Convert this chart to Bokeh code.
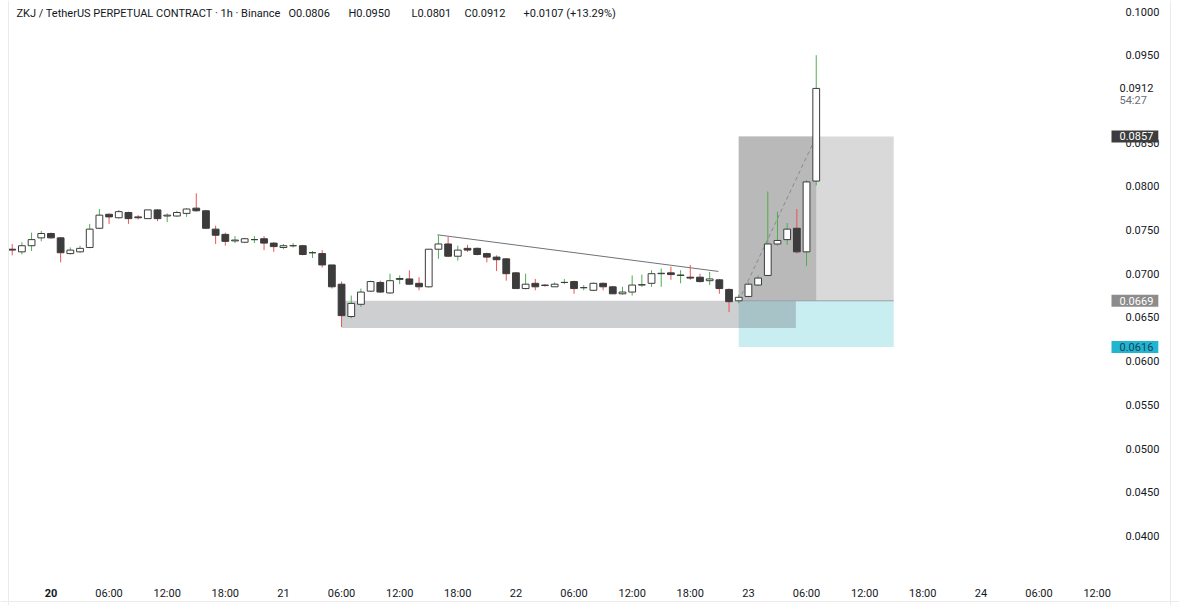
from bokeh.plotting import figure
from bokeh.models import Range1d, FixedTicker, Label, ColumnDataSource, CustomJSTickFormatter, Span
from bokeh.embed import file_html
from bokeh.resources import INLINE

# ---- data: ZKJ/USDT perpetual, 1h candles, first bar = 19th 20:00 ----
opens = [0.0728, 0.0725, 0.0732, 0.0741, 0.0746, 0.0741, 0.0723, 0.0725, 0.0730, 0.0752,
         0.0768, 0.0764, 0.0770, 0.0765, 0.0763, 0.0773, 0.0766, 0.0766, 0.0769, 0.0775,
         0.0772, 0.0751, 0.0745, 0.07375, 0.0736, 0.0739, 0.0740, 0.0735, 0.0730, 0.0732,
         0.0732, 0.0724, 0.0723, 0.0710, 0.0688, 0.0651, 0.0665, 0.0680, 0.0690, 0.0678,
         0.06935, 0.0694, 0.0689, 0.0685, 0.0728, 0.0734, 0.0720, 0.0729, 0.0729, 0.0723,
         0.0719, 0.0717, 0.0701, 0.0683, 0.0689, 0.0687, 0.0685, 0.0690, 0.0691, 0.0684,
         0.0681, 0.0689, 0.0685, 0.0677, 0.0679, 0.0687, 0.0689, 0.0700, 0.0701, 0.0698,
         0.0696, 0.0696, 0.0692, 0.0693, 0.0682, 0.0669, 0.0674, 0.0687, 0.0698, 0.0734,
         0.0739, 0.0752, 0.0725, 0.0806]
highs = [0.0734, 0.0736, 0.0747, 0.0749, 0.0747, 0.0742, 0.0730, 0.0732, 0.0757, 0.0774,
         0.0769, 0.0773, 0.0771, 0.0767, 0.0773, 0.0774, 0.0769, 0.0772, 0.0775, 0.0792,
         0.0773, 0.0755, 0.0747, 0.0743, 0.0741, 0.0743, 0.0743, 0.0736, 0.0734, 0.0735,
         0.0733, 0.0726, 0.0727, 0.0710, 0.0691, 0.0675, 0.0683, 0.0692, 0.0692, 0.0700,
         0.0698, 0.0704, 0.0696, 0.0728, 0.0744, 0.0742, 0.0732, 0.0733, 0.0730, 0.0724,
         0.0721, 0.0718, 0.0702, 0.0700, 0.0694, 0.0688, 0.0690, 0.0694, 0.0692, 0.0687,
         0.0690, 0.0690, 0.0686, 0.0685, 0.0698, 0.0699, 0.0704, 0.0706, 0.0708, 0.0704,
         0.0710, 0.0700, 0.0702, 0.0694, 0.0683, 0.0676, 0.0690, 0.0698, 0.0794, 0.0771,
         0.0758, 0.0774, 0.0807, 0.0950]
lows = [0.0721, 0.0722, 0.0726, 0.0737, 0.0740, 0.0713, 0.0722, 0.0724, 0.0729, 0.0751,
        0.0757, 0.0763, 0.0757, 0.0762, 0.0763, 0.0760, 0.0759, 0.0765, 0.0765, 0.0771,
        0.0751, 0.0734, 0.0732, 0.0735, 0.0735, 0.0735, 0.0727, 0.0725, 0.0728, 0.0730,
        0.0721, 0.0718, 0.0707, 0.0683, 0.0639, 0.0649, 0.0662, 0.0679, 0.0678, 0.0677,
        0.0688, 0.0687, 0.0681, 0.0684, 0.0717, 0.0719, 0.0715, 0.0725, 0.0721, 0.0713,
        0.0703, 0.0692, 0.0683, 0.0682, 0.0681, 0.0685, 0.0685, 0.0688, 0.0677, 0.0681,
        0.0680, 0.0681, 0.0677, 0.0676, 0.0675, 0.0685, 0.0685, 0.0685, 0.0693, 0.0689,
        0.0693, 0.0690, 0.0687, 0.0677, 0.0656, 0.0666, 0.0673, 0.0686, 0.0697, 0.0732,
        0.0733, 0.0723, 0.0709, 0.0801]
closes = [0.0727, 0.0732, 0.0739, 0.0746, 0.0741, 0.0724, 0.0727, 0.0729, 0.0751, 0.0767,
          0.0765, 0.0771, 0.0763, 0.0764, 0.0773, 0.0763, 0.0767, 0.0770, 0.0774, 0.0772,
          0.0752, 0.0744, 0.0737, 0.07385, 0.0740, 0.0739, 0.0735, 0.0731, 0.0732, 0.0732,
          0.0722, 0.0724, 0.0710, 0.0685, 0.0652, 0.0666, 0.0679, 0.0691, 0.0679, 0.0692,
          0.06945, 0.0688, 0.0685, 0.0728, 0.0734, 0.0720, 0.0727, 0.0727, 0.0722, 0.0719,
          0.0716, 0.0700, 0.0683, 0.0688, 0.0685, 0.06865, 0.0688, 0.0690, 0.0683, 0.0684,
          0.0689, 0.0685, 0.0677, 0.0679, 0.0687, 0.06875, 0.0700, 0.07005, 0.0699, 0.06985,
          0.0695, 0.0691, 0.0694, 0.0683, 0.0668, 0.0673, 0.0688, 0.0695, 0.0734, 0.0738,
          0.0751, 0.0725, 0.0805, 0.0912]
hours = list(range(len(opens)))  # hours since 19th 20:00

time_tick_hours = [4, 10, 16, 22, 28, 34, 40, 46, 52, 58, 64, 70, 76, 82, 88, 94, 100, 106, 112]
time_tick_labels = ["20", "06:00", "12:00", "18:00", "21", "06:00", "12:00", "18:00", "22", "06:00",
                    "12:00", "18:00", "23", "06:00", "12:00", "18:00", "24", "06:00", "12:00"]
price_ticks = [0.1000, 0.0950, 0.0850, 0.0800, 0.0750, 0.0700, 0.0650, 0.0600, 0.0550, 0.0500, 0.0450, 0.0400]

# drawings
zone_hours = [34, 80.9]
zone_prices = [0.0638, 0.0669]
position_hours = [75, 83, 91]
entry_price, target_price, stop_price = 0.0669, 0.0857, 0.0616
trend_hours = [43.9, 72.9]
trend_prices = [0.07445, 0.07026]
countdown = "54:27"

# ---- layout constants (pixel mapping of the reference) ----
W, H = 1179, 605
PX_PER_H, X_OF_H0 = 9.687, 11.7      # page x of hour 0
PX_PER_PRICE, Y_OF_01 = 8740.0, 11.0  # page y of 0.1000
SCALE_X = 1110                        # left edge of price scale
TIME_Y = 572                          # top of time scale


def hx(page_x):
    return (page_x - X_OF_H0) / PX_PER_H


def py(page_y):
    return 0.1 - (page_y - Y_OF_01) / PX_PER_PRICE


FONT = "Roboto"
TXT = "#131722"

p = figure(width=W, height=H,
           x_range=Range1d(hx(0), hx(W)),
           y_range=Range1d(py(H), py(0)),
           y_axis_location="right", output_backend="svg", toolbar_location=None,
           min_border_left=0, min_border_top=0, min_border_right=0, min_border_bottom=0)
p.outline_line_color = None
p.grid.visible = False
p.background_fill_color = "white"
p.border_fill_color = "white"

# frame borders of the chart widget
for loc, dim in [(hx(8), "height"), (hx(1170), "height"), (py(601), "width")]:
    p.add_layout(Span(location=loc, dimension=dim, line_color="#ebebeb", line_width=1))

# zones
p.quad(left=[position_hours[0]], right=[position_hours[2]], bottom=[stop_price], top=[entry_price],
       fill_color="#c9eef2", line_color=None)
p.quad(left=[position_hours[0]], right=[position_hours[2]], bottom=[entry_price], top=[target_price],
       fill_color="#d9d9d9", line_color=None)
p.quad(left=[position_hours[0]], right=[position_hours[1]], bottom=[entry_price], top=[target_price],
       fill_color="#b9b9b9", line_color=None)
p.quad(left=[zone_hours[0]], right=[zone_hours[1]], bottom=[zone_prices[0]], top=[zone_prices[1]],
       fill_color="#5d6166", fill_alpha=0.3, line_color=None)
p.segment(x0=[position_hours[0]], y0=[entry_price], x1=[position_hours[2]], y1=[entry_price],
          line_color="#9a9ea3", line_width=1)
p.line(x=[position_hours[0], position_hours[1]], y=[entry_price, target_price],
       line_color="#8a8a8a", line_width=1, line_dash="4 3")
p.line(x=trend_hours, y=trend_prices, line_color="#6f7278", line_width=1)

# candles
up = [c >= o for o, c in zip(opens, closes)]
src = ColumnDataSource(dict(
    x=hours, o=opens, h=highs, l=lows, c=closes,
    top=[max(o, c) for o, c in zip(opens, closes)],
    bottom=[min(o, c) for o, c in zip(opens, closes)],
    wick=["#4caf50" if u else "#ef5350" for u in up],
    body=["#ffffff" if u else "#3c3c3c" for u in up],
))
p.segment(x0="x", y0="l", x1="x", y1="h", line_color="wick", line_width=1, source=src)
p.vbar(x="x", width=0.7, top="top", bottom="bottom", fill_color="body",
       line_color="#3c3c3c", line_width=1, source=src)

# axes (drawn at fixed locations inside the canvas)
ya = p.yaxis[0]
ya.fixed_location = hx(SCALE_X)
ya.ticker = FixedTicker(ticks=price_ticks)
ya.formatter = CustomJSTickFormatter(code="return tick.toFixed(4);")
ya.major_tick_line_color = None
ya.minor_tick_line_color = None
ya.axis_line_color = None
ya.major_label_standoff = 9
ya.major_label_text_font = FONT
ya.major_label_text_font_size = "11px"
ya.major_label_text_color = TXT

xa = p.xaxis[0]
xa.fixed_location = py(TIME_Y)
xa.ticker = FixedTicker(ticks=time_tick_hours)
xa.major_label_overrides = {t: ("" if i == 0 else lab)
                            for i, (t, lab) in enumerate(zip(time_tick_hours, time_tick_labels))}
xa.major_tick_line_color = None
xa.minor_tick_line_color = None
xa.axis_line_color = None
xa.major_label_standoff = 8
xa.major_label_text_font = FONT
xa.major_label_text_font_size = "11px"
xa.major_label_text_color = TXT

p.add_layout(Label(x=time_tick_hours[0], y=py(592), text=time_tick_labels[0], text_font=FONT,
                   text_font_size="11px", text_font_style="bold", text_color=TXT,
                   text_align="center", text_baseline="middle"))

# header
chg = closes[-1] - closes[-2]
head = [("ZKJ / TetherUS PERPETUAL CONTRACT \u00b7 1h \u00b7 Binance", 16),
        ("O%.4f" % opens[-1], 288), ("H%.4f" % highs[-1], 348), ("L%.4f" % lows[-1], 411),
        ("C%.4f" % closes[-1], 464), ("%+.4f (%+.2f%%)" % (chg, chg / closes[-2] * 100), 523)]
for t, xp in head:
    p.add_layout(Label(x=hx(xp), y=py(13), text=t, text_font=FONT, text_font_size="11px",
                       text_color=TXT, text_align="left", text_baseline="middle"))

# price scale labels
p.add_layout(Label(x=hx(1119), y=closes[-1], text="%.4f" % closes[-1], text_font=FONT,
                   text_font_size="11px", text_color=TXT, text_align="left", text_baseline="middle"))
p.add_layout(Label(x=hx(1119), y=py(100), text=countdown, text_font=FONT,
                   text_font_size="11px", text_color="#6a6d78", text_align="left", text_baseline="middle"))
for val, bg, fg in [(target_price, "#3d3d3d", "#ffffff"), (entry_price, "#8c8c8c", "#ffffff"),
                    (stop_price, "#22b5cf", "#1c3f5e")]:
    p.add_layout(Label(x=hx(1111), y=val, text="%.4f" % val, text_font=FONT, text_font_size="11px",
                       text_color=fg, text_align="left", text_baseline="middle",
                       background_fill_color=bg, padding=dict(left=8, right=5, top=2, bottom=2)))

open("out.html", "w").write(file_html(p, INLINE))
